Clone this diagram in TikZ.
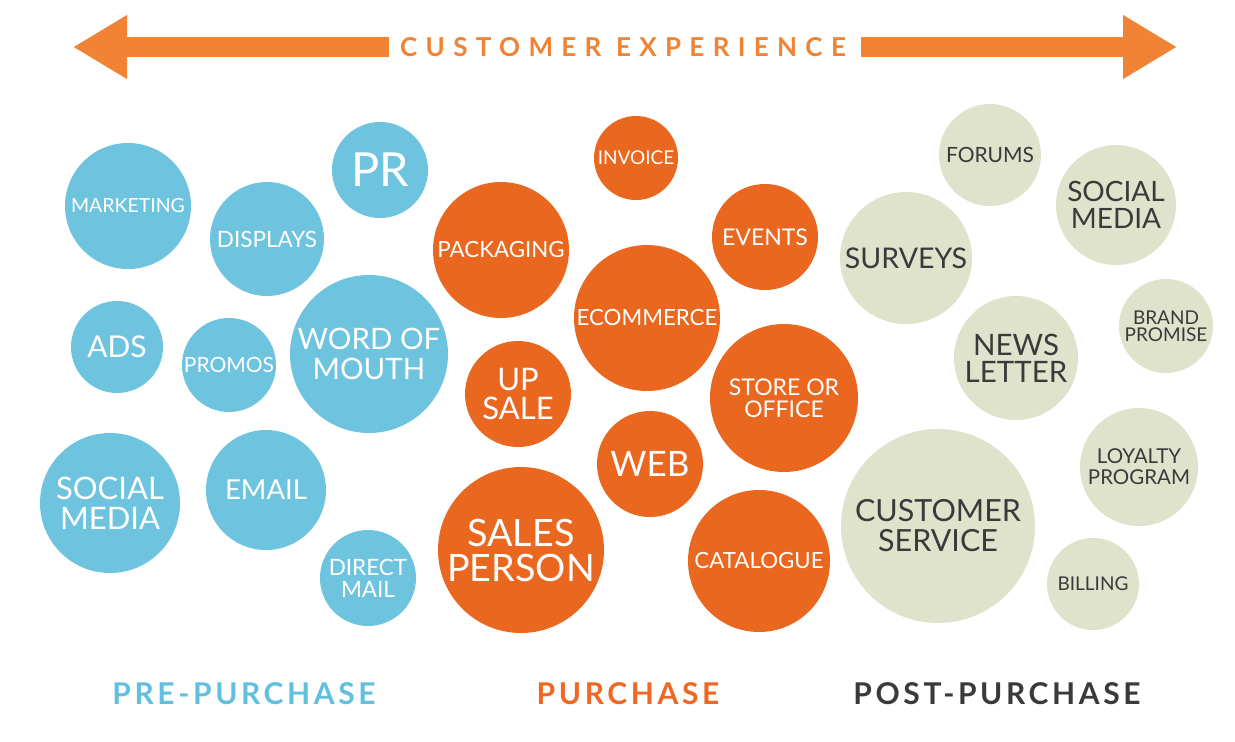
\documentclass[tikz,border=0pt]{standalone}
\usepackage{fontspec}
\setmainfont{Lato}
\newfontfamily\titlefont[LetterSpace=32]{Lato}
\newfontfamily\phasefont[LetterSpace=12]{Lato}
\usetikzlibrary{arrows.meta}
\definecolor{cblue}{RGB}{110,196,223}
\definecolor{corange}{RGB}{233,103,30}
\definecolor{cgrey}{RGB}{223,227,204}
\definecolor{ctext}{RGB}{58,58,58}
\definecolor{carrow}{RGB}{241,131,52}
\definecolor{lblue}{RGB}{96,192,222}
\definecolor{lorange}{RGB}{236,104,36}
\tikzset{
  bub/.style={circle, inner sep=0pt, align=center},
  pre/.style={bub, fill=cblue, text=white},
  mid/.style={bub, fill=corange, text=white},
  post/.style={bub, fill=cgrey, text=ctext},
  fs/.style 2 args={font=\fontsize{#1}{#2}\selectfont},
  arrowline/.style={draw=carrow, line width=20pt, -{Triangle[length=54pt,width=60pt]}},
  titletext/.style={text=carrow, font=\titlefont\bfseries\fontsize{26}{30}\selectfont, inner sep=0pt},
  phase/.style={font=\phasefont\bfseries\fontsize{30}{34}\selectfont, inner sep=0pt}
}
\begin{document}
\begin{tikzpicture}[x=1pt,y=-1pt]
\fill[white] (0,0) rectangle (1235,742);
\useasboundingbox (0,0) rectangle (1235,742);

% title arrow
\node[titletext] (title) at (623,47) {CUSTOMER EXPERIENCE};
\coordinate (ltip) at (73,47);
\coordinate (rtip) at (1177,47);
\draw[arrowline] ([xshift=-11pt]title.west) -- (ltip);
\draw[arrowline] ([xshift=15pt]title.east) -- (rtip);

% pre-purchase
\node[pre, minimum size=126pt, fs={19.5}{24}] (marketing) at (128,206) {MARKETING};
\node[pre, minimum size=114pt, fs={22.5}{24}] (displays) at (267,239) {DISPLAYS};
\node[pre, minimum size=96pt, fs={47}{48}] (pr) at (380,170) {PR};
\node[pre, minimum size=92pt, fs={30}{30}] (ads) at (117,347) {ADS};
\node[pre, minimum size=94pt, fs={21}{24}] (promos) at (229,365) {PROMOS};
\node[pre, minimum size=158pt, fs={29.5}{30}] (wom) at (369,354) {WORD OF\\MOUTH};
\node[pre, minimum size=140pt, fs={31}{30}] (socialpre) at (110,503) {SOCIAL\\MEDIA};
\node[pre, minimum size=120pt, fs={27.5}{30}] (email) at (266,490) {EMAIL};
\node[pre, minimum size=96pt, fs={22.5}{22}] (directmail) at (368,578) {DIRECT\\MAIL};

% purchase
\node[mid, minimum size=84pt, fs={19}{22}] (invoice) at (636,158) {INVOICE};
\node[mid, minimum size=136pt, fs={22.3}{24}] (packaging) at (501,250) {PACKAGING};
\node[mid, minimum size=106pt, fs={23}{24}] (events) at (765,237) {EVENTS};
\node[mid, minimum size=146pt, fs={22.3}{26}] (ecommerce) at (647,318) {ECOMMERCE};
\node[mid, minimum size=106pt, fs={31}{29}] (upsale) at (518,394) {UP\\SALE};
\node[mid, minimum size=148pt, fs={23}{22}] (store) at (784,398) {STORE OR\\OFFICE};
\node[mid, minimum size=106pt, fs={35}{36}] (web) at (650,464) {WEB};
\node[mid, minimum size=166pt, fs={37.7}{35}] (salesperson) at (521,550) {SALES\\PERSON};
\node[mid, minimum size=142pt, fs={22.3}{24}] (catalogue) at (759,561) {CATALOGUE};

% post-purchase
\node[post, minimum size=102pt, fs={21}{22}] (forums) at (990,155) {FORUMS};
\node[post, minimum size=120pt, fs={28}{27}] (socialpost) at (1116,205) {SOCIAL\\MEDIA};
\node[post, minimum size=132pt, fs={28.5}{30}] (surveys) at (906,258) {SURVEYS};
\node[post, minimum size=94pt, fs={19}{17}] (brand) at (1166,326) {BRAND\\PROMISE};
\node[post, minimum size=124pt, fs={29.5}{27}] (newsletter) at (1016,358) {NEWS\\LETTER};
\node[post, minimum size=118pt, fs={20.5}{21}] (loyalty) at (1139,467) {LOYALTY\\PROGRAM};
\node[post, minimum size=194pt, fs={30.5}{30}] (custservice) at (938,526) {CUSTOMER\\SERVICE};
\node[post, minimum size=92pt, fs={19}{20}] (billing) at (1093,584) {BILLING};

% phase labels
\node[phase, text=lblue] (prelabel) at (244,694) {PRE-PURCHASE};
\node[phase, text=lorange] (purlabel) at (628,694) {PURCHASE};
\node[phase, text=ctext] (postlabel) at (997,694) {POST-PURCHASE};
\end{tikzpicture}
\end{document}
